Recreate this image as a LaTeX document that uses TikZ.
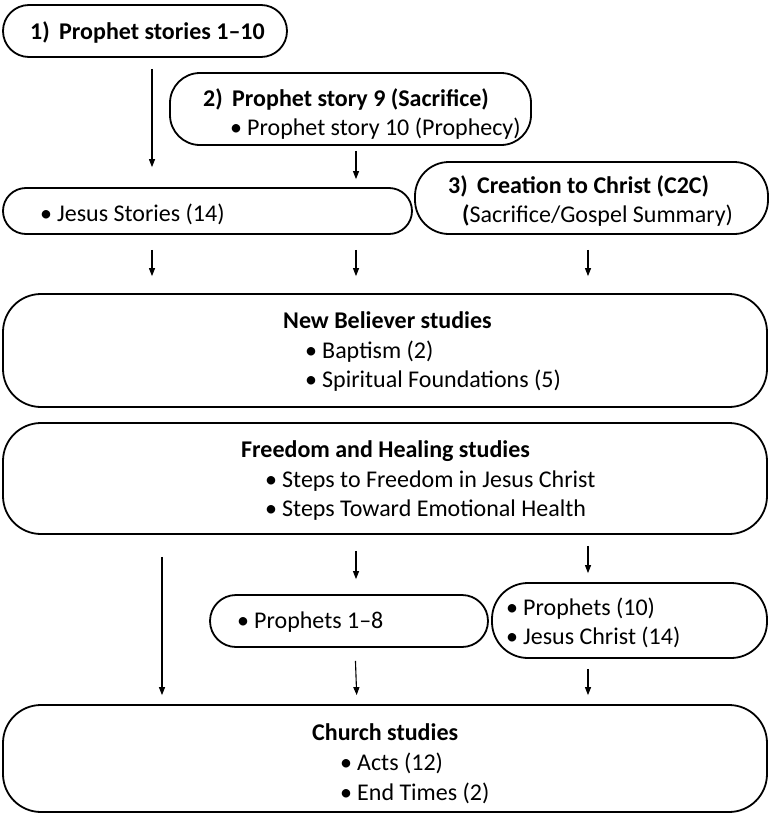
\documentclass[tikz,border=0pt]{standalone}
\usepackage{fontspec}
\setmainfont{Carlito}
\usetikzlibrary{arrows.meta,positioning}
\tikzset
{
    pill/.style = {draw=black, line width=1.8pt, rounded corners=#1, inner sep=0pt},
    pill/.default = 38pt,
    txt/.style  = {anchor=base west, inner sep=0pt, font=\fontsize{24}{29}\selectfont},
    hd/.style   = {txt, font=\fontsize{24}{29}\selectfont\bfseries},
    arr/.style  = {line width=1.1pt, -{Triangle[length=8pt,width=6pt]}}
}
\newcommand{\bul}{\makebox[17pt][l]{•}}
\newcommand{\enumlab}[1]{\makebox[29pt][l]{#1}}

\begin{document}
\begin{tikzpicture}[x=1pt, y=-1pt]
\useasboundingbox (0,0) rectangle (770,814);
% boxes
\node[pill=26pt, minimum width=284, minimum height=52] (ps) at (145,31) {};
\node[pill=30pt, minimum width=361, minimum height=72] (sac) at (350.5,109) {};
\node[pill=23pt, minimum width=409, minimum height=46] (js) at (207.5,211) {};
\node[pill=34pt, minimum width=353, minimum height=72] (c2c) at (591.5,198) {};
\node[pill, minimum width=764, minimum height=113] (nb) at (385,350.5) {};
\node[pill, minimum width=764, minimum height=111] (fh) at (385,478.5) {};
\node[pill=26pt, minimum width=278, minimum height=52] (pr) at (349,621) {};
\node[pill=36pt, minimum width=275, minimum height=75] (pj) at (629.5,620.5) {};
\node[pill, minimum width=764, minimum height=107] (ch) at (385,758.5) {};
% texts
\node[hd] (psT) at (30,39) {\enumlab{1)}Prophet stories 1–10};
\node[hd] (sacT) at (203,106) {\enumlab{2)}Prophet story 9 (Sacrifice)};
\node[txt] (sacI) at (230,135) {\bul Prophet story 10 (Prophecy)};
\node[txt] (jsT) at (40,221) {\bul Jesus Stories (14)};
\node[hd] (c2cT) at (448,193) {\enumlab{3)}Creation to Christ (C2C)};
\node[txt] (c2cI) at (462,222) {\textbf{(}Sacrifice/Gospel Summary)};
\node[hd] (nbT) at (283,328) {New Believer studies};
\node[txt] (nbA) at (305,358) {\bul Baptism (2)};
\node[txt] (nbB) at (305,387) {\bul Spiritual Foundations (5)};
\node[hd] (fhT) at (241,457) {Freedom and Healing studies};
\node[txt] (fhA) at (265,487) {\bul Steps to Freedom in Jesus Christ};
\node[txt] (fhB) at (265,516) {\bul Steps Toward Emotional Health};
\node[txt] (prT) at (237,628) {\bul Prophets 1–8};
\node[txt] (pjA) at (506,615) {\bul Prophets (10)};
\node[txt] (pjB) at (506,644) {\bul Jesus Christ (14)};
\node[hd] (chT) at (312,740) {Church studies};
\node[txt] (chA) at (340,770) {\bul Acts (12)};
\node[txt] (chB) at (340,800) {\bul End Times (2)};
% arrows
\draw[arr, shorten <=11pt, shorten >=20pt] ([xshift=7pt]ps.south) -- ([xshift=7pt]ps.south |- js.north);
\draw[arr, shorten <=5pt, shorten >=8pt] ([xshift=5.5pt]sac.south) -- ([xshift=5.5pt]sac.south |- js.north);
\draw[arr, shorten <=15pt, shorten >=17pt] ([xshift=-55.5pt]js.south) -- ([xshift=-55.5pt]js.south |- nb.north);
\draw[arr, shorten <=15pt, shorten >=17pt] ([xshift=148.5pt]js.south) -- ([xshift=148.5pt]js.south |- nb.north);
\draw[arr, shorten <=15pt, shorten >=17pt] ([xshift=-3.5pt]c2c.south) -- ([xshift=-3.5pt]c2c.south |- nb.north);
\draw[arr, shorten <=22pt, shorten >=9pt] ([xshift=-223pt]fh.south) -- ([xshift=-223pt]fh.south |- ch.north);
\draw[arr, shorten <=16pt, shorten >=15pt] ([xshift=-29pt]fh.south) -- ([xshift=-29pt]fh.south |- pr.north);
\draw[arr, shorten <=11pt, shorten >=9pt] ([xshift=203pt]fh.south) -- ([xshift=203pt]fh.south |- pj.north);
\draw[arr, shorten <=13pt, shorten >=9pt] ([xshift=6pt]pr.south) -- ([xshift=8pt]pr.south |- ch.north);
\draw[arr, shorten <=10pt, shorten >=9pt] ([xshift=-41.5pt]pj.south) -- ([xshift=-41.5pt]pj.south |- ch.north);
\end{tikzpicture}
\end{document}
